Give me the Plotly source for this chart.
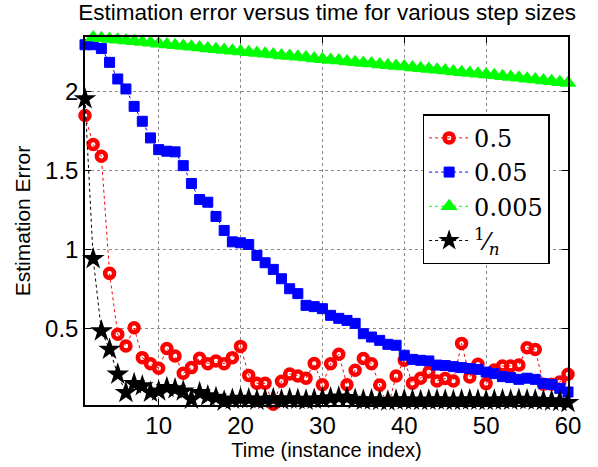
import plotly.graph_objects as go

n = list(range(1, 61))

err_05 = [1.847, 1.664, 1.590, 0.851, 0.466, 0.392, 0.508, 0.319, 0.281, 0.252,
          0.376, 0.329, 0.220, 0.256, 0.315, 0.281, 0.298, 0.281, 0.319, 0.390,
          0.207, 0.157, 0.157, 0.025, 0.170, 0.216, 0.203, 0.189, 0.282, 0.148,
          0.281, 0.340, 0.148, 0.240, 0.313, 0.281, 0.146, 0.005, 0.203, 0.303,
          0.157, 0.189, 0.228, 0.172, 0.187, 0.172, 0.409, 0.197, 0.277, 0.155,
          0.241, 0.266, 0.266, 0.272, 0.382, 0.371, 0.151, 0.151, 0.165, 0.214]

err_005 = [2.294, 2.294, 2.270, 2.183, 2.078, 2.015, 1.905, 1.811, 1.706, 1.632,
           1.622, 1.618, 1.531, 1.418, 1.317, 1.300, 1.210, 1.122, 1.050, 1.044,
           1.033, 0.964, 0.918, 0.876, 0.817, 0.754, 0.723, 0.649, 0.641, 0.628,
           0.586, 0.567, 0.554, 0.535, 0.470, 0.449, 0.428, 0.403, 0.397, 0.334,
           0.308, 0.302, 0.298, 0.272, 0.269, 0.262, 0.256, 0.250, 0.245, 0.228,
           0.218, 0.199, 0.193, 0.182, 0.189, 0.182, 0.155, 0.149, 0.125, 0.102]

err_0005 = [2.345, 2.340, 2.335, 2.331, 2.326, 2.321, 2.316, 2.311, 2.306, 2.301,
            2.296, 2.291, 2.286, 2.281, 2.276, 2.271, 2.266, 2.261, 2.256, 2.252,
            2.247, 2.242, 2.237, 2.232, 2.227, 2.223, 2.218, 2.213, 2.208, 2.203,
            2.198, 2.194, 2.189, 2.184, 2.179, 2.175, 2.170, 2.165, 2.160, 2.156,
            2.151, 2.146, 2.141, 2.136, 2.131, 2.126, 2.121, 2.116, 2.111, 2.106,
            2.101, 2.096, 2.090, 2.085, 2.080, 2.074, 2.069, 2.064, 2.058, 2.053]

err_1n = [1.952, 0.943, 0.487, 0.371, 0.214, 0.098, 0.154, 0.140, 0.100, 0.108,
          0.130, 0.122, 0.108, 0.056, 0.098, 0.077, 0.067, 0.045, 0.056, 0.062,
          0.058, 0.050, 0.055, 0.060, 0.052, 0.058, 0.055, 0.050, 0.056, 0.060,
          0.065, 0.070, 0.066, 0.055, 0.050, 0.052, 0.048, 0.045, 0.050, 0.052,
          0.050, 0.048, 0.050, 0.052, 0.050, 0.048, 0.050, 0.052, 0.050, 0.048,
          0.050, 0.052, 0.050, 0.055, 0.052, 0.050, 0.048, 0.045, 0.042, 0.035]

x_ticks = [10, 20, 30, 40, 50, 60]
y_ticks = [0.5, 1, 1.5, 2]
labels = ["0.5", "0.05", "0.005", "<sup>1</sup>⁄<sub><i>n</i></sub>"]

fig = go.Figure()
fig.add_trace(go.Scatter(x=n, y=err_05, mode="lines+markers", name=labels[0],
                         line=dict(color="#ff0000", width=1, dash="dot"),
                         marker=dict(symbol="circle-open", size=9, color="#ff0000",
                                     line=dict(width=4.5, color="#ff0000")),
                         cliponaxis=False))
fig.add_trace(go.Scatter(x=n, y=err_005, mode="lines+markers", name=labels[1],
                         line=dict(color="#0000ff", width=1, dash="dot"),
                         marker=dict(symbol="square", size=10, color="#0000ff",
                                     line=dict(width=1, color="#0000ff")),
                         cliponaxis=False))
fig.add_trace(go.Scatter(x=n, y=err_0005, mode="lines+markers", name=labels[2],
                         line=dict(color="#00ff00", width=1, dash="dot"),
                         marker=dict(symbol="triangle-up", size=15, color="#00ff00",
                                     line=dict(width=0)),
                         cliponaxis=False))
fig.add_trace(go.Scatter(x=n, y=err_1n, mode="lines+markers", name=labels[3],
                         line=dict(color="#000000", width=1, dash="dot"),
                         marker=dict(symbol="star", size=17, color="#000000",
                                     line=dict(width=0)),
                         cliponaxis=False))

axis_common = dict(showline=True, linecolor="black", linewidth=1.5, mirror="ticks",
                   ticks="inside", ticklen=6, tickcolor="black", tickwidth=1,
                   showgrid=True, gridcolor="#8a8a8a", griddash="dot", gridwidth=1,
                   zeroline=False, automargin=False,
                   tickfont=dict(family="Liberation Sans, Arial, sans-serif",
                                 size=24, color="black"))

fig.update_xaxes(range=[1, 60], tickvals=x_ticks, ticklabelstandoff=-2,
                 title=dict(text="Time (instance index)", standoff=3,
                            font=dict(family="Liberation Sans, Arial, sans-serif",
                                      size=20, color="black")),
                 **axis_common)
fig.update_yaxes(range=[0.02, 2.343], tickvals=y_ticks, ticktext=["0.5", "1", "1.5", "2"],
                 title=dict(text="Estimation Error", standoff=9,
                            font=dict(family="Liberation Sans, Arial, sans-serif",
                                      size=21, color="black")),
                 **axis_common)

fig.update_layout(
    width=598, height=467,
    margin=dict(l=85, r=30, t=37, b=62, autoexpand=False),
    paper_bgcolor="white", plot_bgcolor="white",
    title=dict(text="Estimation error versus time for various step sizes",
               x=0.547, xanchor="center", y=0.975, yanchor="middle",
               font=dict(family="Liberation Sans, Arial, sans-serif", size=22.5, color="black")),
    legend=dict(x=0.699, y=0.79, xanchor="left", yanchor="top",
                bgcolor="white", bordercolor="black", borderwidth=1.5,
                font=dict(family="DejaVu Serif, Liberation Serif, serif", size=24, color="black"),
                itemwidth=40, tracegroupgap=0),
    showlegend=True,
)

fig.write_html("out.html", config={"displayModeBar": False},
               post_script="document.body.style.margin='0';")
